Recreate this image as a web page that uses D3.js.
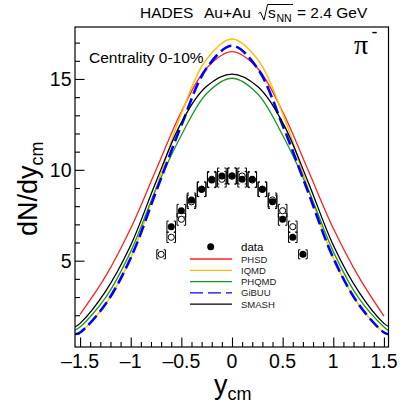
<!DOCTYPE html>
<html>
<head>
<meta charset="utf-8">
<script src="https://cdn.jsdelivr.net/npm/d3@7"></script>
<style>
  html, body { margin: 0; padding: 0; background: #fff; }
  svg { display: block; }
  text { font-family: "Liberation Sans", Arial, Helvetica, sans-serif; fill: #000; }
</style>
</head>
<body>
<svg id="chart" width="403" height="412"></svg>
<script>
// Rapidity points (bin centres) and measured pi- yields
const rapidity = [-0.6, -0.5, -0.4, -0.3, -0.2, -0.1, 0.0, 0.1, 0.2, 0.3, 0.4, 0.5, 0.6, 0.7];
const dNdy     = [6.87, 7.75, 8.34, 8.93, 9.44, 9.66, 9.66, 9.48, 9.48, 8.93, 8.24, 7.28, 6.29, 5.35];
const sysErr   = [0.31, 0.35, 0.38, 0.40, 0.42, 0.44, 0.44, 0.43, 0.43, 0.40, 0.37, 0.33, 0.29, 0.25];

// Model calculations sampled in rapidity
const modelY    = [-1.55, -1.5, -1.25, -1.0, -0.75, -0.5, -0.25, 0.0, 0.25, 0.5, 0.75, 1.0, 1.25, 1.5, 1.55];
const phsdY     = [-1.5, -1.25, -1.0, -0.75, -0.5, -0.25, 0.0, 0.25, 0.5, 0.75, 1.0, 1.25, 1.5];
const phsd      = [2.05, 4.12, 6.78, 10.0, 13.2, 15.6, 16.5, 15.6, 13.2, 10.0, 6.78, 4.12, 1.95];
const iqmd      = [0.95, 1.05, 2.6, 5.15, 9.0, 13.1, 16.1, 17.2, 16.1, 13.1, 9.0, 5.15, 2.6, 1.05, 0.95];
const phqmd     = [1.18, 1.35, 2.95, 5.5, 8.95, 11.9, 14.2, 15.04, 14.2, 11.9, 8.95, 5.5, 2.95, 1.35, 1.14];
const gibuu     = [0.95, 1.05, 2.6, 5.15, 8.8, 12.45, 15.6, 16.83, 15.6, 12.45, 8.8, 5.15, 2.6, 1.05, 0.95];
const smash     = [1.35, 1.55, 3.3, 5.85, 9.35, 12.6, 14.6, 15.27, 14.6, 12.6, 9.35, 5.85, 3.3, 1.55, 1.37];

const xMajorTicks = [-1.5, -1, -0.5, 0, 0.5, 1, 1.5];
const xTickLabels = ["\u20131.5", "\u20131", "\u20130.5", "0", "0.5", "1", "1.5"];
const yMajorTicks = [5, 10, 15];
const yTickLabels = ["5", "10", "15"];

const series = [
  { name: "PHSD",  xs: phsdY,  ys: phsd,  color: "#ff2020", width: 1.3, dash: null },
  { name: "IQMD",  xs: modelY, ys: iqmd,  color: "#ffbf00", width: 1.4, dash: null },
  { name: "PHQMD", xs: modelY, ys: phqmd, color: "#1a9a1a", width: 1.3, dash: null },
  { name: "GiBUU", xs: modelY, ys: gibuu, color: "#0000ff", width: 2.6, dash: "12,5" },
  { name: "SMASH", xs: modelY, ys: smash, color: "#000000", width: 1.3, dash: null }
];

const svg = d3.select("#chart");
const frame = { left: 75, right: 388.5, top: 27, bottom: 347 };

const x = d3.scaleLinear().domain([-1.55, 1.545]).range([frame.left, frame.right]);
const y = d3.scaleLinear().domain([0.25, 17.86]).range([frame.bottom, frame.top]);

svg.append("clipPath").attr("id", "plotClip")
  .append("rect")
  .attr("x", frame.left).attr("y", frame.top)
  .attr("width", frame.right - frame.left).attr("height", frame.bottom - frame.top);

const plot = svg.append("g").attr("clip-path", "url(#plotClip)");

// model curves
const line = d3.line().curve(d3.curveCatmullRom.alpha(0.5));
series.forEach(s => {
  const pts = s.xs.map((v, i) => [x(v), y(s.ys[i])]);
  plot.append("path")
    .attr("d", line(pts))
    .attr("fill", "none")
    .attr("stroke", s.color)
    .attr("stroke-width", s.width)
    .attr("stroke-dasharray", s.dash);
});

// systematic brackets drawn for measured and reflected points
const points = rapidity.map((r, i) => ({ r, v: dNdy[i], e: sysErr[i] }));
const reflected = points.map(p => ({ r: -p.r, v: p.v, e: p.e }));

function bracket(g, p) {
  const cx = x(p.r), y1 = y(p.v + p.e), y2 = y(p.v - p.e);
  const hw = 4.3, serif = 1.8;
  g.append("path")
    .attr("d", `M${cx - hw + serif},${y1}H${cx - hw}V${y2}H${cx - hw + serif}` +
               `M${cx + hw - serif},${y1}H${cx + hw}V${y2}H${cx + hw - serif}`)
    .attr("fill", "none").attr("stroke", "#000").attr("stroke-width", 1);
}
const errG = plot.append("g");
reflected.forEach(p => bracket(errG, p));
points.forEach(p => bracket(errG, p));

plot.append("g").selectAll("circle").data(reflected).join("circle")
  .attr("cx", d => x(d.r)).attr("cy", d => y(d.v)).attr("r", 3.1)
  .attr("fill", "#fff").attr("stroke", "#000").attr("stroke-width", 1);

plot.append("g").selectAll("circle").data(points).join("circle")
  .attr("cx", d => x(d.r)).attr("cy", d => y(d.v)).attr("r", 3.5)
  .attr("fill", "#000");

// frame
svg.append("rect")
  .attr("x", frame.left).attr("y", frame.top)
  .attr("width", frame.right - frame.left).attr("height", frame.bottom - frame.top)
  .attr("fill", "none").attr("stroke", "#000").attr("stroke-width", 1.2);

// x axis: ticks inside the frame
const xAxis = d3.axisTop(x)
  .tickValues(d3.range(-15, 16).map(v => v / 10))
  .tickSize(0).tickFormat("");
const xg = svg.append("g").attr("transform", `translate(0,${frame.bottom})`).call(xAxis);
xg.select(".domain").remove();
xg.selectAll(".tick line")
  .attr("y2", d => (Math.abs(d * 2 - Math.round(d * 2)) < 1e-6 ? -9.5 : -5))
  .attr("stroke", "#000").attr("stroke-width", 1.1);

xMajorTicks.forEach((v, i) => {
  svg.append("text")
    .attr("x", x(v)).attr("y", 368)
    .attr("text-anchor", "middle")
    .style("font-size", "19.5px")
    .text(xTickLabels[i]);
});

// y axis: ticks inside the frame
const yAxis = d3.axisRight(y)
  .tickValues(d3.range(1, 18))
  .tickSize(0).tickFormat("");
const yg = svg.append("g").attr("transform", `translate(${frame.left},0)`).call(yAxis);
yg.select(".domain").remove();
yg.selectAll(".tick line")
  .attr("x2", d => (d % 5 === 0 ? 9.5 : 5))
  .attr("stroke", "#000").attr("stroke-width", 1.1);

yMajorTicks.forEach((v, i) => {
  svg.append("text")
    .attr("x", 71.5).attr("y", y(v) + 7)
    .attr("text-anchor", "end")
    .style("font-size", "19.5px")
    .text(yTickLabels[i]);
});

// axis titles
const yTitle = svg.append("text")
  .attr("transform", "translate(37,236) rotate(-90)")
  .style("font-size", "27px");
yTitle.append("tspan").text("dN/dy");
yTitle.append("tspan").attr("dy", 6).style("font-size", "18px").text("cm");

const xTitle = svg.append("text")
  .attr("x", 214).attr("y", 394)
  .style("font-size", "27px");
xTitle.append("tspan").text("y");
xTitle.append("tspan").attr("dy", 6).style("font-size", "18px").text("cm");

// header
svg.append("text").attr("x", 140).attr("y", 18).style("font-size", "15.5px").text("HADES");
svg.append("text").attr("x", 204).attr("y", 18).style("font-size", "15.5px").text("Au+Au");
svg.append("path")
  .attr("d", "M258.5,13.5L260.5,12.2L264,20L267.5,4.5H293")
  .attr("fill", "none").attr("stroke", "#000").attr("stroke-width", 1);
svg.append("text").attr("x", 268).attr("y", 18).style("font-size", "15.5px").text("s");
svg.append("text").attr("x", 276.5).attr("y", 22).style("font-size", "10.5px").text("NN");
svg.append("text").attr("x", 297).attr("y", 18).style("font-size", "15.5px").text("= 2.4 GeV");

// annotations
svg.append("text").attr("x", 89).attr("y", 62.5).style("font-size", "15.5px").text("Centrality 0-10%");
svg.append("text").attr("x", 354).attr("y", 54)
  .style("font-family", "'Liberation Serif', 'DejaVu Serif', serif")
  .style("font-size", "28px").text("\u03c0");
svg.append("text").attr("x", 371.5).attr("y", 38).style("font-size", "18px").text("-");

// legend
const legend = svg.append("g");
legend.append("circle").attr("cx", 210.7).attr("cy", 246.7).attr("r", 3.5).attr("fill", "#000");
legend.append("text").attr("x", 241).attr("y", 250.5).style("font-size", "11.5px").text("data");
series.forEach((s, i) => {
  const ly = 259 + i * 11.3;
  legend.append("line")
    .attr("x1", 190).attr("x2", 232).attr("y1", ly).attr("y2", ly)
    .attr("stroke", s.color).attr("stroke-width", 1.3)
    .attr("stroke-dasharray", s.dash ? "13,5" : null);
  legend.append("text").attr("x", 241).attr("y", ly + 3.5)
    .style("font-size", "9.5px").style("fill", "#222").text(s.name);
});
</script>
</body>
</html>
